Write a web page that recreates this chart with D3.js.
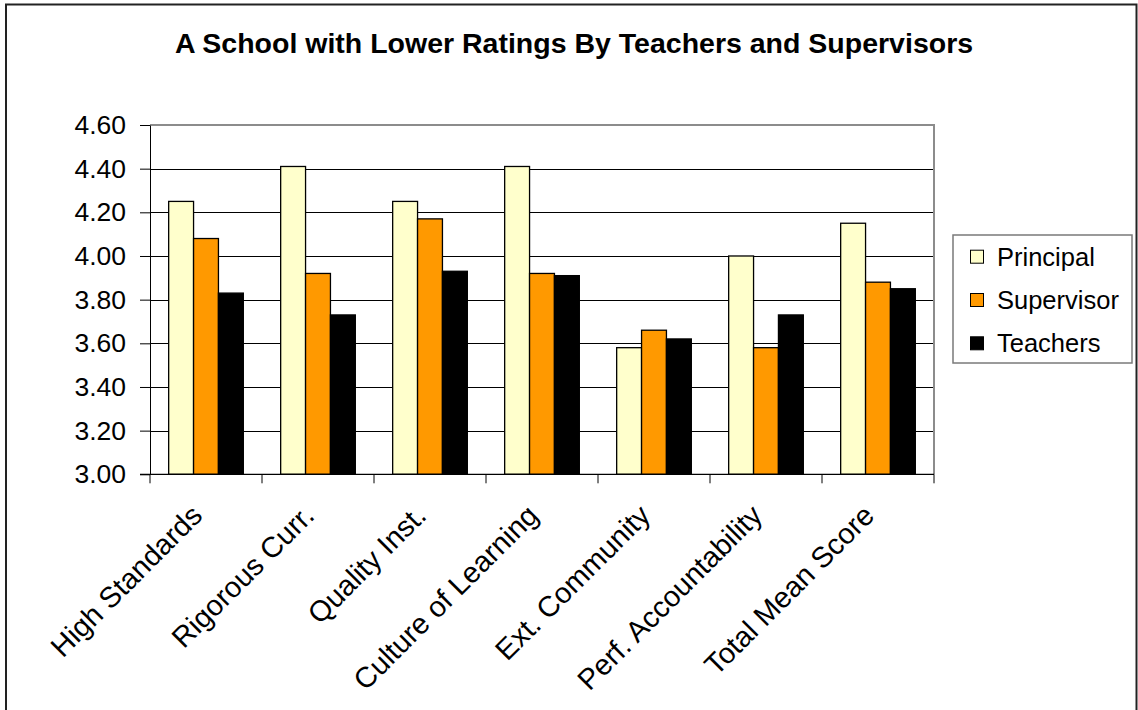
<!DOCTYPE html>
<html>
<head>
<meta charset="utf-8">
<script src="https://cdn.jsdelivr.net/npm/d3@7"></script>
<style>
  html, body { margin: 0; padding: 0; background: #fff; }
  svg { display: block; font-family: "Liberation Sans", Arial, sans-serif; }
</style>
</head>
<body>
<svg id="chart" width="1138" height="710"></svg>
<script>
// Rating areas shown along the horizontal axis
const categories = ["High Standards", "Rigorous Curr.", "Quality Inst.", "Culture of Learning",
                    "Ext. Community", "Perf. Accountability", "Total Mean Score"];
// Respondent groups
const seriesNames = ["Principal", "Supervisor", "Teachers"];
const seriesColors = ["#FFFFCC", "#FF9900", "#000000"];
// Mean ratings per group
const principal  = [4.25, 4.41, 4.25, 4.41, 3.58, 4.00, 4.15];
const supervisor = [4.08, 3.92, 4.17, 3.92, 3.66, 3.58, 3.88];
const teachers   = [3.83, 3.73, 3.93, 3.91, 3.62, 3.73, 3.85];
const yTicks = [3.0, 3.2, 3.4, 3.6, 3.8, 4.0, 4.2, 4.4, 4.6];

const seriesValues = [principal, supervisor, teachers];
const rows = categories.map((c, i) => ({
  category: c,
  values: seriesNames.map((s, k) => ({ series: s, value: seriesValues[k][i], color: seriesColors[k] }))
}));

const svg = d3.select("#chart");
const plot = { left: 150, right: 934, top: 125, bottom: 474.3 };

// Outer chart frame
svg.append("rect")
  .attr("x", 6).attr("y", 4.5).attr("width", 1130.5).attr("height", 720)
  .attr("fill", "#fff").attr("stroke", "#222").attr("stroke-width", 2);

// Title
svg.append("text")
  .attr("x", 574).attr("y", 53)
  .attr("text-anchor", "middle")
  .attr("font-size", 28.5).attr("font-weight", "bold")
  .text("A School with Lower Ratings By Teachers and Supervisors");

const x0 = d3.scaleBand().domain(categories).range([plot.left, plot.right]).padding(0);
const bw = x0.bandwidth();
const gap = bw * 1.5 / 4.5;
const x1 = d3.scaleBand().domain(seriesNames).range([gap / 2, bw - gap / 2]).padding(0);
const y = d3.scaleLinear().domain([3.0, 4.6]).range([plot.bottom, plot.top]);

// Horizontal gridlines
svg.append("g")
  .selectAll("line")
  .data(yTicks.slice(1, -1))
  .join("line")
  .attr("x1", plot.left).attr("x2", plot.right)
  .attr("y1", d => Math.round(y(d)) + 0.5).attr("y2", d => Math.round(y(d)) + 0.5)
  .attr("stroke", "#000").attr("stroke-width", 1);

// Plot frame (top and right edges)
svg.append("path")
  .attr("d", `M${plot.left},${plot.top}H${plot.right}V${plot.bottom}`)
  .attr("fill", "none").attr("stroke", "#8c8c8c").attr("stroke-width", 2);

// Bars
svg.append("g")
  .selectAll("g")
  .data(rows)
  .join("g")
  .attr("transform", d => `translate(${x0(d.category)},0)`)
  .selectAll("rect")
  .data(d => d.values)
  .join("rect")
  .attr("x", d => x1(d.series))
  .attr("width", x1.bandwidth())
  .attr("y", d => y(d.value))
  .attr("height", d => y(3.0) - y(d.value))
  .attr("fill", d => d.color)
  .attr("stroke", "#000").attr("stroke-width", 1.3);

// Y axis
const yAxis = svg.append("g")
  .attr("transform", `translate(${plot.left},0)`)
  .call(d3.axisLeft(y).tickValues(yTicks).tickFormat(d3.format(".2f")).tickSizeOuter(0).tickSizeInner(10).tickPadding(14));
yAxis.select(".domain").attr("stroke", "#000");
yAxis.selectAll(".tick line").attr("stroke", "#000");
yAxis.selectAll("text").attr("font-size", 26.5).attr("fill", "#000")
  .attr("font-family", "'Liberation Sans', Arial, sans-serif");

// X axis: ticks at category boundaries
const xAxis = svg.append("g").attr("transform", `translate(0,${plot.bottom})`);
xAxis.append("line")
  .attr("x1", plot.left - 10).attr("x2", plot.right)
  .attr("stroke", "#000").attr("stroke-width", 1.2);
const bounds = categories.map(c => x0(c)).concat([plot.right]);
xAxis.selectAll("line.tk")
  .data(bounds)
  .join("line").attr("class", "tk")
  .attr("x1", d => d).attr("x2", d => d)
  .attr("y1", 0).attr("y2", 9)
  .attr("stroke", "#000");

// Rotated category labels
xAxis.selectAll("text")
  .data(categories)
  .join("text")
  .attr("text-anchor", "end")
  .attr("font-size", 29)
  .attr("transform", d => `translate(${x0(d) + bw / 2 - 2},${43}) rotate(-45)`)
  .text(d => d);

// Legend
const legend = svg.append("g");
legend.append("rect")
  .attr("x", 953).attr("y", 235).attr("width", 179).attr("height", 128)
  .attr("fill", "#fff").attr("stroke", "#7a7a7a").attr("stroke-width", 1.5);
const li = legend.selectAll("g.item")
  .data(seriesNames)
  .join("g").attr("class", "item")
  .attr("transform", (d, i) => `translate(0,${256.7 + i * 43.3})`);
li.append("rect")
  .attr("x", 970.5).attr("y", -6.5).attr("width", 13).attr("height", 13)
  .attr("fill", (d, i) => seriesColors[i]).attr("stroke", "#000").attr("stroke-width", 1);
li.append("text")
  .attr("x", 997).attr("y", 9)
  .attr("font-size", 25.5)
  .text(d => d);
</script>
</body>
</html>
